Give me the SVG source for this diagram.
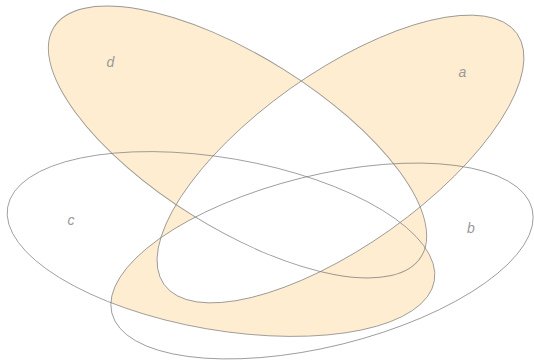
<svg xmlns="http://www.w3.org/2000/svg" width="534" height="363" viewBox="0 0 534 363">
<style>
.fill{fill:#FFEDD1;stroke:none}
.edge{fill:none;stroke:#7a7a7a;stroke-opacity:0.75;stroke-width:0.9}
.lbl{font-family:"Liberation Sans",Arial,sans-serif;font-style:italic;font-size:14px;fill:#999;text-anchor:middle}
</style>
<defs>
<ellipse id="ea" cx="340.5" cy="159" rx="216.5" ry="86.5" transform="rotate(-35.4 340.5 159)"/>
<ellipse id="eb" cx="322" cy="261" rx="216.5" ry="85.5" transform="rotate(-13.9 322 261)"/>
<ellipse id="ec" cx="221" cy="244" rx="216.5" ry="86" transform="rotate(9.8 221 244)"/>
<ellipse id="ed" cx="237.5" cy="142" rx="216.5" ry="86" transform="rotate(32 237.5 142)"/>
<clipPath id="clipC"><use href="#ec"/></clipPath>
<mask id="notA" maskUnits="userSpaceOnUse" x="0" y="0" width="534" height="363">
<rect width="534" height="363" fill="#fff"/>
<use href="#ea" fill="#000"/>
</mask>
<mask id="notG" maskUnits="userSpaceOnUse" x="0" y="0" width="534" height="363">
<rect width="534" height="363" fill="#fff"/>
<use href="#ed" fill="#000"/>
<use href="#eb" fill="#000" clip-path="url(#clipC)"/>
</mask>
</defs>
<g id="shading">
<g mask="url(#notA)">
<use href="#ed" class="fill"/>
<use href="#eb" class="fill" clip-path="url(#clipC)"/>
</g>
<use href="#ea" class="fill" mask="url(#notG)"/>
</g>
<g id="set-a"><use href="#ea" class="edge"/><text class="lbl" x="462.5" y="77">a</text></g>
<g id="set-b"><use href="#eb" class="edge"/><text class="lbl" x="471" y="233">b</text></g>
<g id="set-c"><use href="#ec" class="edge"/><text class="lbl" x="71" y="225">c</text></g>
<g id="set-d"><use href="#ed" class="edge"/><text class="lbl" x="110.5" y="67">d</text></g>
</svg>
